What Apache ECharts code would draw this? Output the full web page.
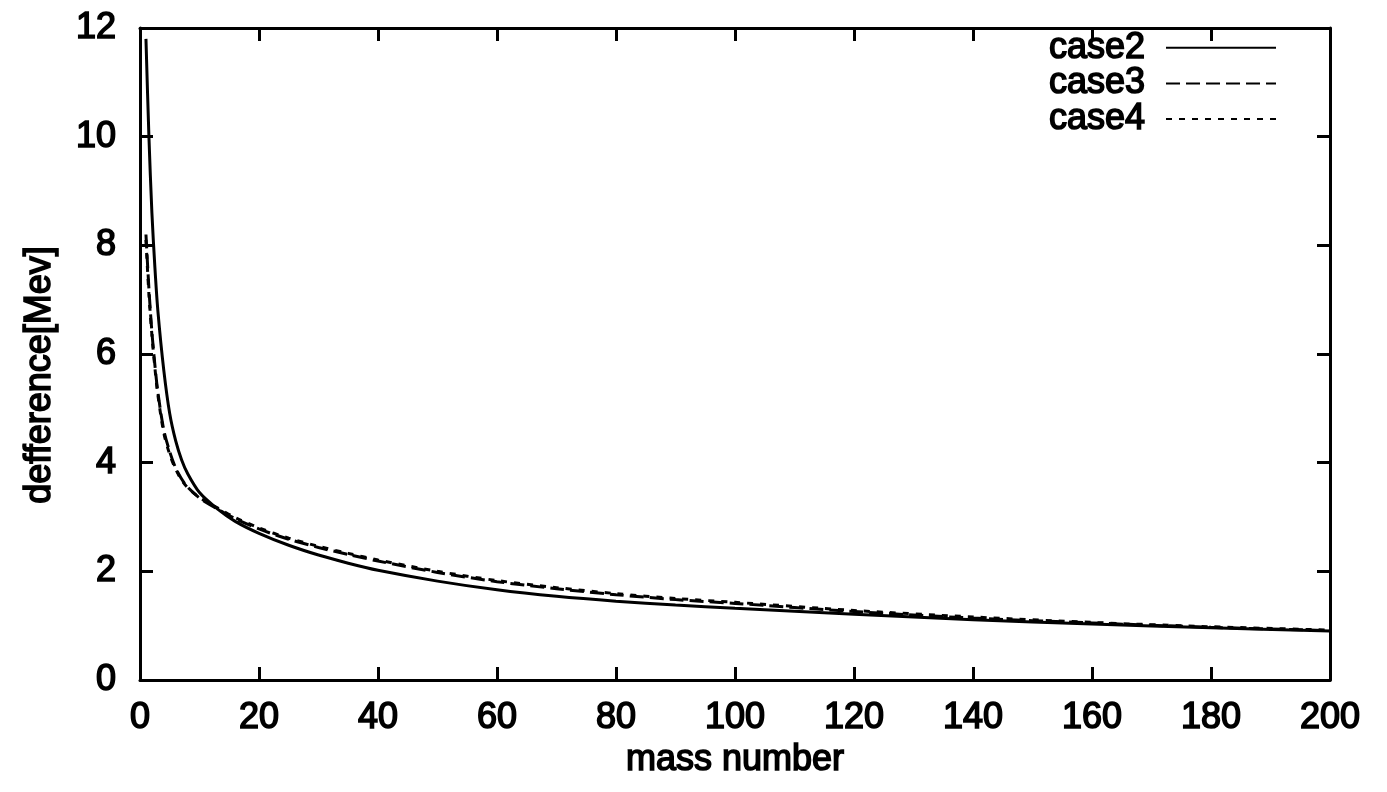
<!DOCTYPE html>
<html>
<head>
<meta charset="utf-8">
<script src="https://cdn.jsdelivr.net/npm/echarts@6/dist/echarts.min.js"></script>
<style>
html,body{margin:0;padding:0;background:#fff;}
#chart{width:1387px;height:792px;}
</style>
</head>
<body>
<div id="chart"></div>
<script>
// mass number sample points
const massNumber = [1,1.5,2,2.5,3,4,5,6,7,8,10,13,16,20,25,30,35,40,50,60,70,80,90,100,120,140,160,180,200];
// difference [MeV] for each case
const case2 = [11.8,10.0,8.6,7.6,6.8,5.7,4.9,4.4,4.05,3.8,3.45,3.15,2.92,2.7,2.48,2.3,2.15,2.02,1.82,1.66,1.54,1.45,1.38,1.32,1.21,1.11,1.03,0.96,0.9];
const case3 = [8.2,7.2,6.4,5.8,5.3,4.6,4.2,3.9,3.7,3.55,3.35,3.15,2.97,2.78,2.59,2.44,2.31,2.19,1.98,1.81,1.68,1.57,1.48,1.41,1.26,1.14,1.05,0.97,0.91];
const case4 = [8.1,7.1,6.35,5.75,5.25,4.55,4.15,3.88,3.68,3.54,3.36,3.17,2.99,2.8,2.61,2.46,2.33,2.21,2.0,1.83,1.7,1.59,1.5,1.43,1.28,1.16,1.06,0.98,0.92];
const seriesNames = ['case2','case3','case4'];
const xTitle = 'mass number';
const yTitle = 'defference[Mev]';

const pairs = arr => massNumber.map((x,i)=>[x,arr[i]]);
const font = {fontFamily:'Liberation Sans, Arial, sans-serif', fontWeight:'normal', color:'#000',
              textBorderColor:'#000', textBorderWidth:1.6};
const axisLine = {show:true, onZero:false, lineStyle:{color:'#000', width:3}};
const tick = {show:true, inside:true, length:13, lineStyle:{color:'#000', width:3}};

const chart = echarts.init(document.getElementById('chart'), null, {renderer:'canvas'});
chart.setOption({
  backgroundColor:'#fff',
  animation:false,
  grid:{left:140, right:57, top:28, bottom:112, containLabel:false},
  legend:{
    orient:'vertical', right:105, top:24, align:'right',
    itemWidth:110, itemHeight:14, itemGap:-2,
    itemStyle:{opacity:0},
    textStyle:Object.assign({fontSize:36, lineHeight:33, padding:[0,16,0,0]}, font),
    data:seriesNames
  },
  xAxis:[{
    type:'value', min:0, max:200, interval:20,
    name:xTitle, nameLocation:'middle', nameGap:60,
    nameTextStyle:Object.assign({fontSize:36}, font),
    axisLine:axisLine, axisTick:tick, splitLine:{show:false},
    axisLabel:Object.assign({fontSize:36, margin:20}, font)
  },{
    type:'value', min:0, max:200, interval:20, position:'top',
    axisLine:axisLine, axisTick:tick, splitLine:{show:false},
    axisLabel:{show:false}
  }],
  yAxis:[{
    type:'value', min:0, max:12, interval:2,
    name:yTitle, nameLocation:'middle', nameGap:82, nameRotate:90,
    nameTextStyle:Object.assign({fontSize:36, padding:[0,42,0,0]}, font),
    axisLine:axisLine, axisTick:tick, splitLine:{show:false},
    axisLabel:Object.assign({fontSize:36, margin:24}, font)
  },{
    type:'value', min:0, max:12, interval:2, position:'right',
    axisLine:axisLine, axisTick:tick, splitLine:{show:false},
    axisLabel:{show:false}
  }],
  series:[
    {name:seriesNames[0], type:'line', data:pairs(case2), symbol:'none', smooth:0.3,
     lineStyle:{color:'#000', width:3, type:'solid'}, itemStyle:{color:'#000'}},
    {name:seriesNames[1], type:'line', data:pairs(case3), symbol:'none', smooth:0.3,
     lineStyle:{color:'#000', width:3, type:[14,6]}, itemStyle:{color:'#000'}},
    {name:seriesNames[2], type:'line', data:pairs(case4), symbol:'none', smooth:0.3,
     lineStyle:{color:'#000', width:3, type:[6,7]}, itemStyle:{color:'#000'}}
  ]
});
</script>
</body>
</html>
